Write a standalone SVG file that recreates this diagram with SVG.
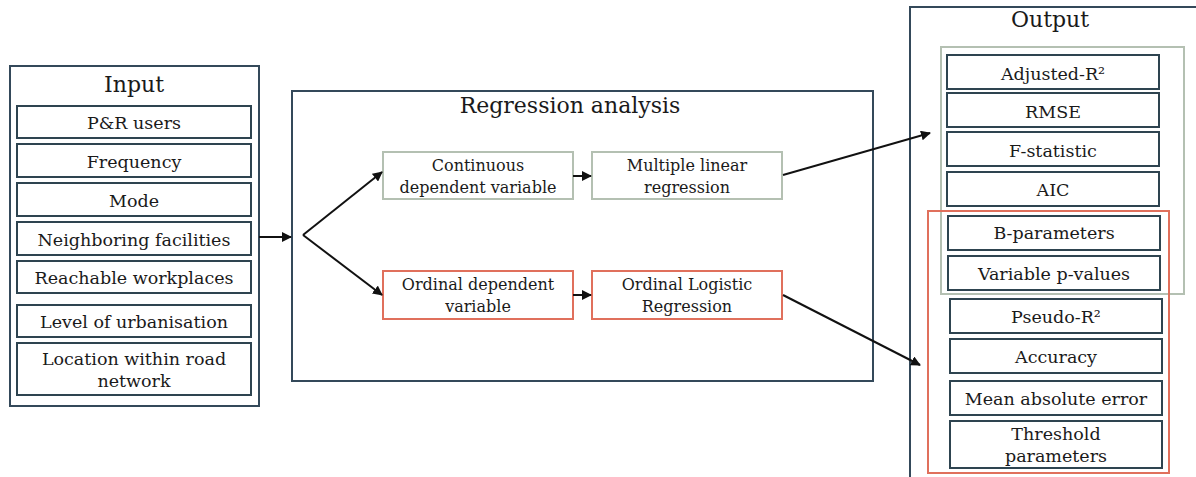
<svg xmlns="http://www.w3.org/2000/svg" width="1196" height="477" viewBox="0 0 1196 477">
<style>
text{font-family:"DejaVu Serif","Liberation Serif",serif;fill:#1a1a1a;text-anchor:middle}
.t{font-size:17.5px}
.s{font-size:16px}
.h{font-size:22px}
.box{fill:#fff;stroke:#2e4450;stroke-width:2}
.outer{fill:none;stroke:#34495a;stroke-width:2}
.green{fill:#fff;stroke:#b4c0b2;stroke-width:2}
.red{fill:#fff;stroke:#e0705c;stroke-width:2}
.gframe{fill:none;stroke:#b4c0b2;stroke-width:2}
.rframe{fill:none;stroke:#e0705c;stroke-width:2}
.c{fill:none;stroke:#111;stroke-width:2}
</style>
<defs>
<marker id="ah" viewBox="0 0 10 10" refX="9" refY="5" markerWidth="5" markerHeight="5" orient="auto" markerUnits="strokeWidth">
<path d="M0,0 L10,5 L0,10 z" fill="#111"/>
</marker>
</defs>
<rect width="1196" height="477" fill="#fff"/>

<g id="input">
<rect class="outer" x="10" y="66" width="249" height="340"/>
<text class="h" x="134" y="92">Input</text>
</g>
<g id="in-pr"><rect class="box" x="17" y="106" width="234" height="32"/><text class="t" x="134" y="129">P&amp;R users</text></g>
<g id="in-freq"><rect class="box" x="17" y="144" width="234" height="33"/><text class="t" x="134" y="168">Frequency</text></g>
<g id="in-mode"><rect class="box" x="17" y="183" width="234" height="33"/><text class="t" x="134" y="207">Mode</text></g>
<g id="in-neigh"><rect class="box" x="17" y="222" width="234" height="33"/><text class="t" x="134" y="246">Neighboring facilities</text></g>
<g id="in-reach"><rect class="box" x="17" y="261" width="234" height="32"/><text class="t" x="134" y="284">Reachable workplaces</text></g>
<g id="in-level"><rect class="box" x="17" y="305" width="234" height="32"/><text class="t" x="134" y="328">Level of urbanisation</text></g>
<g id="in-loc"><rect class="box" x="17" y="343" width="234" height="52"/><text class="t" x="134" y="365">Location within road</text><text class="t" x="134" y="387">network</text></g>

<g id="regression">
<rect class="outer" x="292" y="91" width="581" height="290"/>
<text class="h" x="570" y="113">Regression analysis</text>
</g>
<g id="continuous"><rect class="green" x="383" y="152" width="190" height="47"/><text class="s" x="478" y="171">Continuous</text><text class="s" x="478" y="193">dependent variable</text></g>
<g id="ordinal"><rect class="red" x="383" y="271" width="190" height="48"/><text class="s" x="478" y="290">Ordinal dependent</text><text class="s" x="478" y="312">variable</text></g>
<g id="mlr"><rect class="green" x="592" y="152" width="190" height="47"/><text class="s" x="687" y="171">Multiple linear</text><text class="s" x="687" y="193">regression</text></g>
<g id="olr"><rect class="red" x="592" y="271" width="190" height="48"/><text class="s" x="687" y="290">Ordinal Logistic</text><text class="s" x="687" y="312">Regression</text></g>

<g id="output">
<rect class="outer" x="910" y="7" width="300" height="480"/>
<text class="h" x="1050" y="27">Output</text>
</g>
<g id="out-adj"><rect class="box" x="947" y="55" width="212" height="34"/><text class="t" x="1053" y="80">Adjusted-R²</text></g>
<g id="out-rmse"><rect class="box" x="947" y="93" width="212" height="34"/><text class="t" x="1053" y="118">RMSE</text></g>
<g id="out-f"><rect class="box" x="947" y="132" width="212" height="34"/><text class="t" x="1053" y="157">F-statistic</text></g>
<g id="out-aic"><rect class="box" x="947" y="172" width="212" height="34"/><text class="t" x="1053" y="196">AIC</text></g>
<g id="out-b"><rect class="box" x="948" y="216" width="212" height="34"/><text class="t" x="1054" y="239">B-parameters</text></g>
<g id="out-p"><rect class="box" x="948" y="256" width="212" height="34"/><text class="t" x="1054" y="280">Variable p-values</text></g>
<g id="out-pseudo"><rect class="box" x="950" y="299" width="212" height="34"/><text class="t" x="1056" y="323">Pseudo-R²</text></g>
<g id="out-acc"><rect class="box" x="950" y="339" width="212" height="34"/><text class="t" x="1056" y="363">Accuracy</text></g>
<g id="out-mae"><rect class="box" x="950" y="381" width="212" height="34"/><text class="t" x="1056" y="405">Mean absolute error</text></g>
<g id="out-thr"><rect class="box" x="950" y="421" width="212" height="47"/><text class="t" x="1056" y="440">Threshold</text><text class="t" x="1056" y="462">parameters</text></g>
<g id="group-frames">
<rect class="gframe" x="941" y="47" width="243" height="247"/>
<rect class="rframe" x="928" y="211" width="241" height="262"/>
</g>

<g id="connectors">
<line class="c" x1="259" y1="237" x2="291" y2="237" marker-end="url(#ah)"/>
<line class="c" x1="303" y1="235" x2="382" y2="172" marker-end="url(#ah)"/>
<line class="c" x1="303" y1="235" x2="382" y2="295" marker-end="url(#ah)"/>
<line class="c" x1="573" y1="176" x2="591" y2="176" marker-end="url(#ah)"/>
<line class="c" x1="573" y1="295" x2="591" y2="295" marker-end="url(#ah)"/>
<line class="c" x1="783" y1="175" x2="930" y2="133" marker-end="url(#ah)"/>
<line class="c" x1="783" y1="295" x2="920" y2="365" marker-end="url(#ah)"/>
</g>
</svg>
